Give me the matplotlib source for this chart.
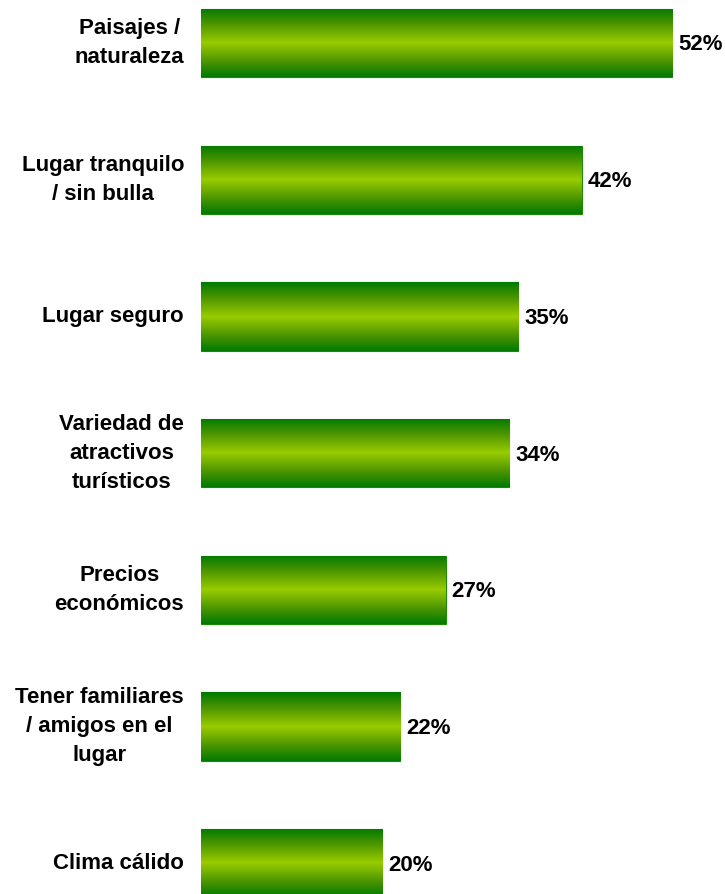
import matplotlib
matplotlib.use("Agg")
import matplotlib.pyplot as plt
import numpy as np
from matplotlib.colors import LinearSegmentedColormap
from matplotlib.transforms import offset_copy

categories = ["Paisajes /\nnaturaleza", "Lugar tranquilo\n/ sin bulla", "Lugar seguro",
              "Variedad de\natractivos\nturísticos", "Precios\neconómicos",
              "Tener familiares\n/ amigos en el\nlugar", "Clima cálido"]
values = [52, 42, 35, 34, 27, 22, 20]
value_labels = ["52%", "42%", "35%", "34%", "27%", "22%", "20%"]

plt.rcParams['font.family'] = ['Liberation Sans', 'DejaVu Sans']

W, H = 725, 894
fig = plt.figure(figsize=(W / 100, H / 100), dpi=100)
ax = fig.add_axes([201 / W, 0, 1 - 201 / W, 1])

step = 136.67
ax.set_ylim((H - 43) / step, -43 / step)
ax.set_xlim(0, (W - 201) / 9.06)
ax.axis('off')

cmap = LinearSegmentedColormap.from_list(
    "g", [(0, "#007a00"), (0.22, "#4a9400"), (0.5, "#99cc00"), (0.78, "#4a9400"), (1, "#007a00")])
grad = np.linspace(0, 1, 256).reshape(-1, 1)

pos = np.arange(len(categories))
bars = ax.barh(pos, values, height=0.5, color="none", edgecolor="#1a8a00", linewidth=0.8)
for b in bars:
    x0, y0 = b.get_x(), b.get_y()
    w, h = b.get_width(), b.get_height()
    im = ax.imshow(grad, cmap=cmap, aspect='auto', extent=(x0, x0 + w, y0 + h, y0),
                   interpolation='bilinear', zorder=1)
    im.set_clip_path(b)
ax.set_ylim((H - 43) / step, -43 / step)
ax.set_xlim(0, (W - 201) / 9.06)

lab_tr = offset_copy(ax.transData, fig=fig, x=-17, y=0, units='dots')
val_tr = offset_copy(ax.transData, fig=fig, x=6, y=-2, units='dots')
for p, c, v, vl in zip(pos, categories, values, value_labels):
    ax.text(0, p, c, transform=lab_tr, ha='right', va='center', multialignment='center',
            fontsize=16, fontweight='bold', linespacing=1.5, clip_on=False)
    ax.text(v, p, vl, transform=val_tr, ha='left', va='center',
            fontsize=16, fontweight='bold', clip_on=False)

fig.savefig("out.png", dpi=100)
